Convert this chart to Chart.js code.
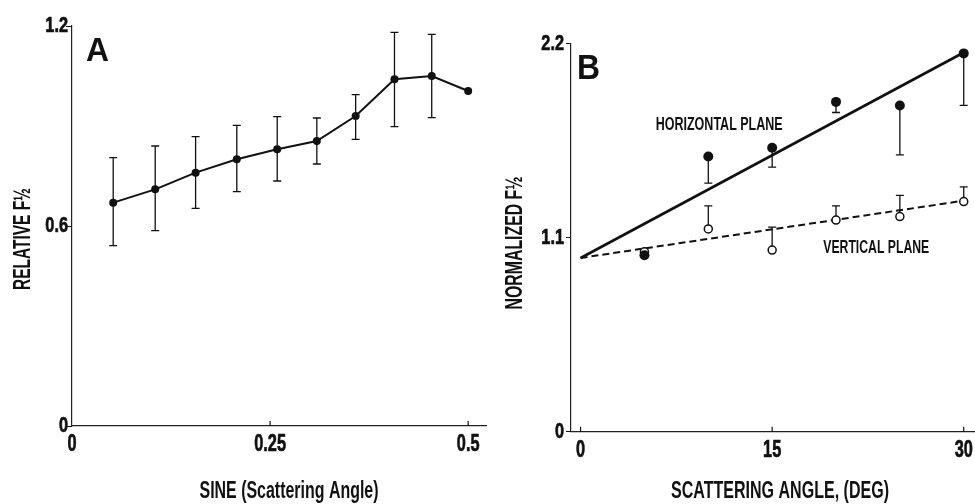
<!DOCTYPE html>
<html>
<head>
<meta charset="utf-8">
<script src="https://cdn.jsdelivr.net/npm/chart.js@4.4.1/dist/chart.umd.min.js"></script>
<style>
  html, body { margin: 0; padding: 0; background: #fff; overflow: hidden; width: 975px; height: 504px; }
  #chartA { position: absolute; left: 0; top: 0; }
  #chartB { position: absolute; left: 490px; top: 0; }
</style>
</head>
<body>
<canvas id="chartA" width="490" height="504"></canvas>
<canvas id="chartB" width="492" height="504"></canvas>
<script>
const FONT = "'Liberation Sans', Arial, sans-serif";
const INK = "#111";

// panel A: relative F1/2 vs sine of scattering angle
const sineAngle = [0.052, 0.105, 0.156, 0.208, 0.259, 0.309, 0.358, 0.407, 0.454, 0.5];
const relativeF = [0.67, 0.71, 0.76, 0.80, 0.83, 0.855, 0.93, 1.04, 1.05, 1.005];
const relativeHi = [0.805, 0.84, 0.868, 0.902, 0.928, 0.924, 0.994, 1.181, 1.175, null];
const relativeLo = [0.541, 0.586, 0.653, 0.703, 0.735, 0.786, 0.86, 0.898, 0.925, null];
const xTicksA = [0, 0.25, 0.5];
const xLabelsA = ["0", "0.25", "0.5"];
const yTicksA = [0, 0.6, 1.2];
const yLabelsA = ["0", "0.6", "1.2"];

// panel B: normalized F1/2 vs scattering angle
const scatterAngle = [5, 10, 15, 20, 25, 30];
const horizF = [1.0, 1.56, 1.61, 1.87, 1.85, 2.145];
const horizLo = [null, 1.41, 1.50, 1.81, 1.57, 1.85];
const vertF = [1.02, 1.15, 1.03, 1.20, 1.22, 1.305];
const vertHi = [null, 1.28, 1.16, 1.28, 1.34, 1.388];
const fitAngle = [0, 30];
const horizFit = [0.985, 2.15];
const vertFit = [0.985, 1.31];
const xTicksB = [0, 15, 30];
const xLabelsB = ["0", "15", "30"];
const yTicksB = [0, 1.1, 2.2];
const yLabelsB = ["0", "1.1", "2.2"];

const pts = (xs, ys) => xs.map((x, i) => ({ x, y: ys[i] }));

// vertical error bars, drawn under the points
const errorBars = {
  id: "errorBars",
  beforeDatasetsDraw(chart) {
    const { ctx, scales: { x, y } } = chart;
    ctx.save();
    ctx.strokeStyle = INK;
    ctx.lineWidth = 1.3;
    chart.data.datasets.forEach(ds => {
      if (!ds.errLo && !ds.errHi) return;
      ds.data.forEach((p, i) => {
        const hi = ds.errHi ? ds.errHi[i] : null;
        const lo = ds.errLo ? ds.errLo[i] : null;
        if (hi == null && lo == null) return;
        const px = x.getPixelForValue(p.x);
        const top = y.getPixelForValue(hi == null ? p.y : hi);
        const bot = y.getPixelForValue(lo == null ? p.y : lo);
        ctx.beginPath();
        ctx.moveTo(px, top); ctx.lineTo(px, bot);
        if (hi != null) { ctx.moveTo(px - 4, top); ctx.lineTo(px + 4, top); }
        if (lo != null) { ctx.moveTo(px - 4, bot); ctx.lineTo(px + 4, bot); }
        ctx.stroke();
      });
    });
    ctx.restore();
  }
};

// small tick marks pointing up into the plot on the x axis
const innerTicks = {
  id: "innerTicks",
  afterDraw(chart) {
    const { ctx, scales: { x }, chartArea } = chart;
    ctx.save();
    ctx.strokeStyle = INK;
    ctx.lineWidth = 1.2;
    x.ticks.forEach(t => {
      const px = x.getPixelForValue(t.value);
      if (px - chartArea.left < 2) return;
      ctx.beginPath();
      ctx.moveTo(px, chartArea.bottom);
      ctx.lineTo(px, chartArea.bottom - 5);
      ctx.stroke();
    });
    ctx.restore();
  }
};

// condensed text: tick labels, titles, panel letter, curve labels
function textLayer(cfg) {
  return {
    id: "textLayer",
    afterDraw(chart) {
      const { ctx, scales: { x, y }, chartArea } = chart;
      const items = cfg.items.slice();
      cfg.xTicks.forEach((v, i) => items.push({
        text: cfg.xLabels[i], x: x.getPixelForValue(v), y: chartArea.bottom + cfg.xLabelGap,
        font: `bold 24px ${FONT}`, squeeze: 0.68, heavy: 0.7
      }));
      cfg.yTicks.forEach((v, i) => items.push({
        text: cfg.yLabels[i], x: chartArea.left - cfg.yLabelGap, y: y.getPixelForValue(v),
        align: "right", font: `bold 22px ${FONT}`, squeeze: 0.74, heavy: 0.7
      }));
      items.forEach(it => {
        let px = it.x, py = it.y;
        if (it.dataX != null) {
          px = x.getPixelForValue(it.dataX);
          py = y.getPixelForValue(it.dataY);
        }
        ctx.save();
        ctx.fillStyle = INK;
        ctx.strokeStyle = INK;
        ctx.font = it.font;
        ctx.textAlign = it.align || "center";
        ctx.textBaseline = it.baseline || "middle";
        let sq = it.squeeze || 1;
        if (it.w) sq = it.w / ctx.measureText(it.text).width;
        ctx.translate(px, py);
        if (it.rotate) ctx.rotate(it.rotate);
        ctx.scale(sq, 1);
        ctx.fillText(it.text, 0, 0);
        if (it.heavy) { ctx.lineWidth = it.heavy; ctx.strokeText(it.text, 0, 0); }
        ctx.restore();
      });
    }
  };
}

function axisOptions(ticks, extra) {
  return Object.assign({
    type: "linear",
    afterBuildTicks: s => { s.ticks = ticks.map(v => ({ value: v })); },
    border: { display: true, color: "#222", width: 1.2 },
    grid: { drawOnChartArea: false, drawTicks: false, color: INK, tickLength: 6 },
    ticks: { display: false }
  }, extra);
}

const baseOptions = {
  responsive: false,
  animation: false,
  plugins: { legend: { display: false }, tooltip: { enabled: false } }
};

// ---- panel A
const xA = axisOptions(xTicksA, { min: 0, max: 0.5225, afterFit: s => { s.height = 78; } });
const yA = axisOptions(yTicksA, { min: 0, max: 1.2, afterFit: s => { s.width = 72; } });
yA.grid.drawTicks = true;

new Chart(document.getElementById("chartA"), {
  type: "scatter",
  data: {
    datasets: [{
      data: pts(sineAngle, relativeF),
      errHi: relativeHi,
      errLo: relativeLo,
      showLine: true,
      borderColor: INK,
      borderWidth: 2,
      pointRadius: 4,
      pointBackgroundColor: INK,
      pointBorderWidth: 0
    }]
  },
  options: Object.assign({}, baseOptions, {
    layout: { padding: { top: 26, left: 0, right: 0, bottom: 0 } },
    scales: { x: xA, y: yA }
  }),
  plugins: [errorBars, innerTicks, textLayer({
    xTicks: xTicksA, xLabels: xLabelsA, yTicks: yTicksA, yLabels: yLabelsA,
    xLabelGap: 18, yLabelGap: 4,
    items: [
      { text: "A", x: 86, y: 61, align: "left", baseline: "alphabetic", font: `bold 34px ${FONT}`, w: 23 },
      { text: "SINE (Scattering Angle)", x: 289, y: 492, font: `bold 23px ${FONT}`, w: 179 },
      { text: "RELATIVE F½", x: 24, y: 239, rotate: -Math.PI / 2, font: `bold 23px ${FONT}`, w: 102 }
    ]
  })]
});

// ---- panel B
const xB = axisOptions(xTicksB, { min: -0.75, max: 31, afterFit: s => { s.height = 72.3; } });
const yB = axisOptions(yTicksB, { min: 0, max: 2.2, afterFit: s => { s.width = 81; } });
yB.grid.drawTicks = true;
yB.grid.tickLength = 5;

new Chart(document.getElementById("chartB"), {
  type: "scatter",
  data: {
    datasets: [
      {
        data: pts(scatterAngle, horizF),
        errLo: horizLo,
        order: 0,
        pointRadius: 5,
        pointBackgroundColor: INK,
        pointBorderWidth: 0
      },
      {
        data: pts(scatterAngle, vertF),
        errHi: vertHi,
        order: 1,
        pointRadius: 4,
        pointBackgroundColor: "#fff",
        pointBorderColor: INK,
        pointBorderWidth: 1.5
      },
      {
        data: pts(fitAngle, horizFit),
        order: 2,
        showLine: true, borderColor: INK, borderWidth: 2.6, pointRadius: 0
      },
      {
        data: pts(fitAngle, vertFit),
        order: 3,
        showLine: true, borderColor: INK, borderWidth: 2, borderDash: [7, 4], pointRadius: 0
      }
    ]
  },
  options: Object.assign({}, baseOptions, {
    layout: { padding: { top: 43.7, left: 0, right: 0, bottom: 0 } },
    scales: { x: xB, y: yB }
  }),
  plugins: [errorBars, innerTicks, textLayer({
    xTicks: xTicksB, xLabels: xLabelsB, yTicks: yTicksB, yLabels: yLabelsB,
    xLabelGap: 19, yLabelGap: 7,
    items: [
      { text: "B", x: 87, y: 79, align: "left", baseline: "alphabetic", font: `bold 35px ${FONT}`, w: 23 },
      { text: "SCATTERING ANGLE, (DEG)", x: 290, y: 492, font: `bold 23px ${FONT}`, w: 218 },
      { text: "NORMALIZED F½", x: 26, y: 243, rotate: -Math.PI / 2, font: `bold 23px ${FONT}`, w: 133 },
      { text: "HORIZONTAL PLANE", dataX: 5.88, dataY: 1.74, align: "left", font: `bold 18px ${FONT}`, w: 127 },
      { text: "VERTICAL PLANE", dataX: 19.0, dataY: 1.04, align: "left", font: `bold 18px ${FONT}`, w: 106 }
    ]
  })]
});
</script>
</body>
</html>
